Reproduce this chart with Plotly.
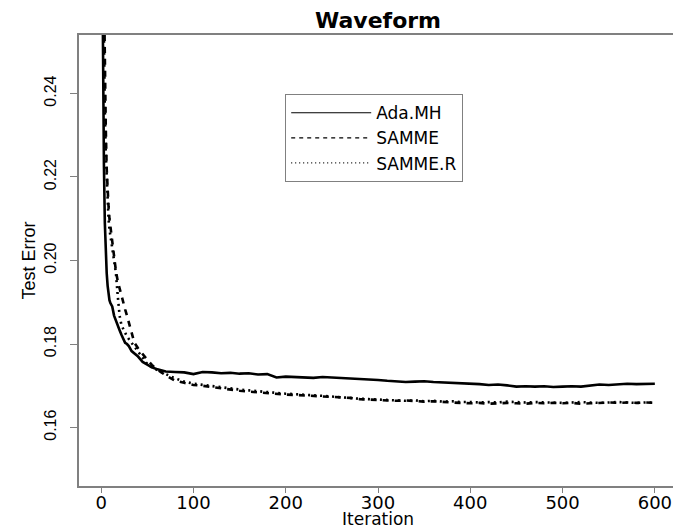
import plotly.graph_objects as go

iterations = [1, 2, 3, 4, 5, 6, 7, 8, 9, 10, 12, 14, 16, 18, 20, 22, 24, 26, 28, 30,
              33, 36, 40, 45, 50, 55,
              60, 70, 80, 90, 100, 110, 120, 130, 140, 150, 160, 170, 180, 190, 200,
              210, 220, 230, 240, 250, 260, 270, 280, 290, 300, 310, 320, 330, 340, 350,
              360, 370, 380, 390, 400, 410, 420, 430, 440, 450, 460, 470, 480, 490, 500,
              510, 520, 530, 540, 550, 560, 570, 580, 590, 600]

ada_mh = [0.280, 0.245, 0.223, 0.209, 0.201, 0.197, 0.194, 0.192, 0.1905, 0.1898,
          0.1890, 0.1868, 0.1855, 0.1845, 0.1833, 0.1822, 0.1810, 0.1803, 0.1800, 0.1795,
          0.1783, 0.1778, 0.1770, 0.1757, 0.1750, 0.1744,
          0.1740, 0.1734, 0.1733, 0.1732, 0.1728, 0.1733, 0.1732, 0.1730, 0.1731, 0.1729,
          0.1730, 0.1727, 0.1728, 0.1720, 0.1722, 0.1721, 0.1720, 0.1719, 0.1721, 0.1720,
          0.1718, 0.1717, 0.1716, 0.1715, 0.1714, 0.1712, 0.1710, 0.1709, 0.1710, 0.1711,
          0.1709, 0.1708, 0.1707, 0.1707, 0.1706, 0.1704, 0.1702, 0.1703, 0.1701, 0.1698,
          0.1699, 0.1698, 0.1699, 0.1697, 0.1698, 0.1699, 0.1698, 0.1701, 0.1703, 0.1702,
          0.1704, 0.1705, 0.1704, 0.1705, 0.1705]

samme = [0.300, 0.280, 0.262, 0.246, 0.232, 0.222, 0.216, 0.213, 0.210, 0.208,
         0.2045, 0.2005, 0.1975, 0.1950, 0.1932, 0.1915, 0.1898, 0.1883, 0.1868, 0.1853,
         0.1828, 0.1803, 0.1790, 0.1775, 0.1762, 0.1750,
         0.1740, 0.1725, 0.1712, 0.1707, 0.1702, 0.1700, 0.1697, 0.1694, 0.1690, 0.1688,
         0.1686, 0.1684, 0.1683, 0.1681, 0.1679, 0.1678, 0.1677, 0.1676, 0.1674, 0.1673,
         0.1672, 0.1671, 0.1668, 0.1667, 0.1666, 0.1666, 0.1664, 0.1665, 0.1663, 0.1662,
         0.1663, 0.1661, 0.1660, 0.1659, 0.1658, 0.1659, 0.1657, 0.1658, 0.1659, 0.1658,
         0.1657, 0.1659, 0.1658, 0.1659, 0.1658, 0.1659, 0.1657, 0.1658, 0.1659, 0.1660,
         0.1659, 0.1660, 0.1659, 0.1660, 0.1659]

samme_r = [0.290, 0.268, 0.250, 0.236, 0.226, 0.219, 0.214, 0.210, 0.2075, 0.2055,
           0.2030, 0.2000, 0.1970, 0.1915, 0.1868, 0.1845, 0.1835, 0.1825, 0.1818, 0.1812,
           0.1803, 0.1793, 0.1782, 0.1765, 0.1752, 0.1744,
           0.1738, 0.1728, 0.1718, 0.1710, 0.1705, 0.1702, 0.1699, 0.1697, 0.1693, 0.1691,
           0.1689, 0.1687, 0.1684, 0.1683, 0.1681, 0.1680, 0.1678, 0.1677, 0.1676, 0.1674,
           0.1672, 0.1670, 0.1669, 0.1668, 0.1667, 0.1666, 0.1666, 0.1664, 0.1665, 0.1663,
           0.1664, 0.1662, 0.1663, 0.1661, 0.1661, 0.1660, 0.1661, 0.1660, 0.1662, 0.1661,
           0.1660, 0.1661, 0.1660, 0.1660, 0.1659, 0.1660, 0.1661, 0.1660, 0.1659, 0.1660,
           0.1661, 0.1660, 0.1659, 0.1660, 0.1660]

series_names = ["Ada.MH", "SAMME", "SAMME.R"]
x_ticks = [0, 100, 200, 300, 400, 500, 600]
y_ticks = [0.16, 0.18, 0.20, 0.22, 0.24]

dashes = ["solid", "6px,6px", "2px,4px"]
legend_dashes = ["solid", "4px,4px", "1px,3px"]
data = [ada_mh, samme, samme_r]

fig = go.Figure()
for name, vals, d in zip(series_names, data, dashes):
    fig.add_trace(go.Scatter(x=iterations, y=vals, mode="lines", name=name,
                             line=dict(color="black", width=2.6, dash=d),
                             showlegend=False))
# thin legend samples, as in the reference legend
for name, d in zip(series_names, legend_dashes):
    fig.add_trace(go.Scatter(x=[None], y=[None], mode="lines", name=name,
                             line=dict(color="black", width=1.2, dash=d)))

# the page body has an 8px margin, so the figure is drawn 8px in from the corner
off = 8
fig_w, fig_h = 681 - off, 528 - off
plot_top, plot_bottom, plot_left, plot_right = 35 - off, 486 - off, 79 - off, 677 - off
plot_h = plot_bottom - plot_top
plot_w = plot_right - plot_left

axis_gray = "#808080"
fig.update_layout(
    template="none",
    width=fig_w, height=fig_h,
    margin=dict(l=plot_left, r=fig_w - plot_right, t=plot_top, b=fig_h - plot_bottom,
                autoexpand=False),
    paper_bgcolor="white", plot_bgcolor="white",
    title=dict(text="<b>Waveform</b>", x=0.5, xref="paper", xanchor="center",
               y=1 - 5 / fig_h, yref="container", yanchor="top", pad=dict(t=0, b=0),
               font=dict(family="DejaVu Sans", size=22, color="black")),
    xaxis=dict(range=[-24, 624], tickvals=x_ticks, ticktext=[str(v) for v in x_ticks],
               automargin=False, ticklabelstandoff=-5,
               showgrid=False, zeroline=False, showline=True, mirror=True,
               linecolor=axis_gray, linewidth=1.5, ticks="outside", ticklen=5,
               tickcolor=axis_gray, tickwidth=1.2,
               tickfont=dict(family="DejaVu Sans", size=18, color="black")),
    yaxis=dict(range=[0.146, 0.254], tickvals=y_ticks, ticktext=["%.2f" % v for v in y_ticks],
               automargin=False,
               tickangle=-90, ticklabelstandoff=8,
               showgrid=False, zeroline=False, showline=True, mirror=True,
               linecolor=axis_gray, linewidth=1.5, ticks="outside", ticklen=7,
               tickcolor=axis_gray, tickwidth=1.2,
               tickfont=dict(family="Liberation Sans", size=16, color="black"),
               title=dict(text="Test Error", standoff=2,
                          font=dict(family="Liberation Sans", size=18, color="black"))),
    legend=dict(x=(285 - off - plot_left) / plot_w, y=(plot_bottom - (94 - off)) / plot_h,
                xanchor="left", yanchor="top",
                bordercolor=axis_gray, borderwidth=1.2, bgcolor="white",
                itemwidth=80, tracegroupgap=0,
                font=dict(family="DejaVu Sans", size=17, color="black")),
    annotations=[dict(text="Iteration", xref="paper", yref="paper", x=0.5,
                      y=-(519 - off - plot_bottom) / plot_h, xanchor="center", yanchor="middle",
                      showarrow=False,
                      font=dict(family="DejaVu Sans", size=17, color="black"))],
)

fig.write_html("out.html")
